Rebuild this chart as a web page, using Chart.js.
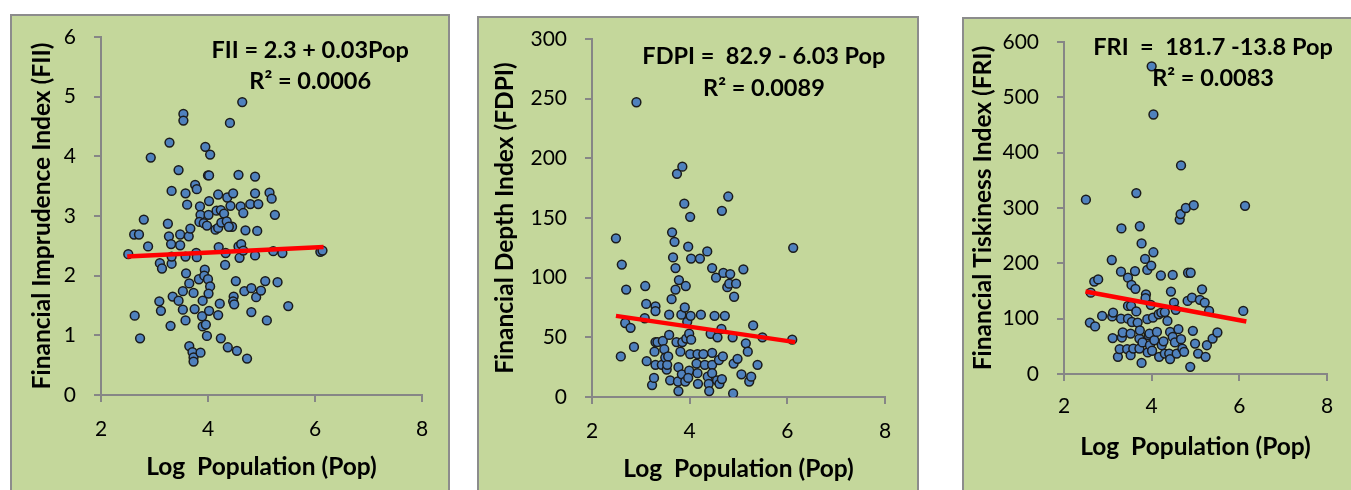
<!DOCTYPE html>
<html>
<head>
<meta charset="utf-8">
<script src="https://cdn.jsdelivr.net/npm/chart.js@4"></script>
<style>
  body { margin: 0; background: #fff; width: 1351px; height: 490px; overflow: hidden; position: relative; }
  .panel { position: absolute; box-sizing: border-box; border: 2px solid #8c8c8c; background: #C4D79B; }
  .panel canvas { display: block; }
</style>
</head>
<body>
<div class="panel" style="left:10px;top:14px;width:440px;height:490px"><canvas id="c1" width="436" height="474"></canvas></div>
<div class="panel" style="left:477px;top:16px;width:442px;height:490px"><canvas id="c2" width="438" height="472"></canvas></div>
<div class="panel" style="left:962px;top:17px;width:400px;height:490px"><canvas id="c3" width="387" height="471"></canvas></div>
<script>
// log population (x) and index values (y)
const fiiPop = [2.51,2.62,2.71,2.63,2.73,2.80,2.88,2.93,3.09,3.12,3.10,3.14,3.25,3.27,3.28,3.30,3.32,3.31,3.32,3.32,3.34,3.45,3.48,3.48,3.45,3.53,3.53,3.54,3.54,3.58,3.61,3.59,3.58,3.58,3.64,3.67,3.65,3.65,3.71,3.73,3.73,3.73,3.75,3.76,3.79,3.78,3.79,3.83,3.85,3.86,3.84,3.86,3.90,3.89,3.90,3.92,3.94,3.93,3.96,3.95,3.98,3.98,4.00,4.01,4.00,4.02,4.04,4.02,4.04,4.01,4.02,4.14,4.19,4.16,4.19,4.20,4.19,4.22,4.24,4.24,4.25,4.30,4.32,4.33,4.36,4.35,4.37,4.41,4.42,4.45,4.39,4.47,4.48,4.47,4.49,4.52,4.54,4.57,4.57,4.59,4.61,4.64,4.66,4.62,4.66,4.68,4.70,4.73,4.79,4.81,4.81,4.88,4.88,4.88,4.92,4.90,4.94,4.99,5.07,5.10,5.15,5.19,5.22,5.25,5.30,5.39,5.50,6.10,6.14];
const fiiValues = [2.36,2.69,2.69,1.33,0.95,2.94,2.49,3.98,1.57,1.41,2.21,2.12,2.87,2.66,4.23,1.16,3.42,2.53,2.20,2.32,1.65,3.77,2.69,2.51,1.58,1.43,1.74,4.71,4.60,3.38,3.19,2.04,1.25,2.32,2.66,2.79,1.87,0.82,0.72,0.63,0.56,1.71,1.44,3.52,3.45,2.38,2.31,1.94,3.16,3.02,2.90,0.71,1.58,1.32,1.15,2.88,2.10,2.00,1.18,4.16,2.84,0.99,3.68,3.02,1.94,3.68,4.03,3.25,1.82,1.70,1.41,2.77,3.36,3.09,2.80,2.48,1.34,1.53,0.95,3.10,2.89,3.04,2.18,2.38,3.31,2.91,0.80,4.56,3.17,2.82,2.82,3.38,1.65,1.57,1.52,1.91,0.74,3.69,2.49,2.30,3.16,4.91,3.05,2.53,2.42,1.74,2.76,0.61,3.20,1.39,1.79,3.66,3.38,2.34,2.75,1.64,3.20,1.75,1.91,1.25,3.39,3.29,2.41,3.02,1.89,2.38,1.49,2.40,2.42];

const fdpiPop = [2.49,2.61,2.59,2.70,2.68,2.79,2.86,2.91,3.09,3.11,3.08,3.12,3.23,3.27,3.30,3.30,3.28,3.30,3.34,3.30,3.43,3.45,3.48,3.50,3.53,3.54,3.56,3.58,3.58,3.60,3.63,3.64,3.66,3.69,3.71,3.71,3.74,3.78,3.73,3.77,3.77,3.76,3.81,3.85,3.83,3.85,3.84,3.89,3.92,3.90,3.91,3.93,3.95,3.97,3.99,4.01,4.02,4.03,4.03,4.01,3.99,3.97,4.14,4.16,4.16,4.17,4.21,4.23,4.28,4.31,4.36,4.37,4.39,4.40,4.46,4.43,4.46,4.46,4.46,4.51,4.54,4.57,4.56,4.60,4.61,4.66,4.66,4.68,4.65,4.69,4.72,4.79,4.83,4.77,4.81,4.91,4.95,4.88,4.89,4.90,4.98,5.06,5.10,5.15,5.19,5.22,5.26,5.30,5.39,5.49,6.10,6.12];
const fdpiValues = [133,111,34,90,62,58,42,247,93,78,66,30,10,16,76,72,38,46,46,27,27,47,40,33,23,27,34,52,69,14,82,138,117,130,108,90,187,98,46,25,5,13,38,193,69,46,19,162,93,75,13,49,63,126,53,151,68,48,116,36,22,16,28,36,20,11,116,69,36,27,122,17,11,5,108,53,37,27,20,68,100,50,14,31,11,156,15,34,57,104,68,168,103,92,95,84,95,50,3,28,32,19,107,45,38,13,17,60,27,50,48,125];

const friPop = [2.50,2.59,2.61,2.71,2.69,2.78,2.87,3.09,3.10,3.12,3.11,3.23,3.27,3.30,3.31,3.30,3.32,3.34,3.44,3.46,3.46,3.46,3.52,3.52,3.53,3.54,3.55,3.58,3.62,3.63,3.65,3.65,3.68,3.72,3.72,3.73,3.73,3.77,3.77,3.79,3.85,3.87,3.86,3.90,3.90,3.91,3.93,3.95,3.96,3.99,3.98,4.01,4.00,4.04,4.04,4.03,4.06,4.12,4.17,4.16,4.21,4.22,4.23,4.27,4.30,4.30,4.36,4.40,4.42,4.42,4.44,4.48,4.48,4.51,4.53,4.55,4.57,4.61,4.64,4.67,4.66,4.67,4.70,4.74,4.78,4.82,4.83,4.89,4.88,4.92,4.94,4.96,4.99,5.06,5.10,5.15,5.21,5.23,5.26,5.31,5.39,5.50,6.09,6.13];
const friValues = [315,93,147,86,167,171,105,206,104,111,65,31,45,100,263,185,66,75,45,174,100,123,34,73,123,161,94,46,186,154,113,327,93,64,46,267,79,236,20,57,208,144,137,188,99,39,70,73,52,196,125,42,556,469,220,102,61,76,31,108,178,111,52,59,37,112,96,37,27,76,149,179,67,129,57,116,37,81,279,63,289,377,46,40,300,132,183,183,13,138,78,305,55,37,134,153,129,31,52,114,64,75,114,304];

// red fitted lines, ends
const trendPop = [2.49, 6.16];
const fiiTrend = [2.32, 2.48];
const fdpiTrend = [68, 46];
const friTrend = [149, 95];

const yTitles = ['Financial Imprudence Index (FII)', 'Financial Depth Index (FDPI)', 'Financial Tiskiness Index (FRI)'];
const xTitle = 'Log  Population (Pop)';
const equations = [
  ['FII = 2.3 + 0.03Pop', 'R\u00b2 = 0.0006'],
  ['FDPI =  82.9 - 6.03 Pop', 'R\u00b2 = 0.0089'],
  ['FRI  =  181.7 -13.8 Pop', 'R\u00b2 = 0.0083']
];
// where each equation block is centred, in data units (x, line1 y, line2 y)
const eqAnchor = [[5.91, 5.78, 5.26], [5.52, 285, 259], [5.40, 591, 535]];
const yMax = [6, 300, 600];
const yStep = [1, 50, 100];

const FONT = 'Lato, Carlito, Calibri, sans-serif';
const grey = '#868686';

const eqPlugin = {
  id: 'eq',
  afterDatasetsDraw(chart, args, opts) {
    const {ctx, scales} = chart;
    const a = opts.anchor;
    ctx.save();
    ctx.font = 'bold 23.5px ' + FONT;
    ctx.fillStyle = '#000';
    ctx.textAlign = 'center';
    ctx.textBaseline = 'middle';
    const x = scales.x.getPixelForValue(a[0]);
    ctx.fillText(opts.lines[0], x, scales.y.getPixelForValue(a[1]));
    ctx.fillText(opts.lines[1], x, scales.y.getPixelForValue(a[2]));
    ctx.restore();
  }
};

function makePanel(id, i, xs, ys, trend, lay) {
  const pts = xs.map((x, k) => ({x: x, y: ys[k]}));
  const line = trendPop.map((x, k) => ({x: x, y: trend[k]}));
  new Chart(document.getElementById(id), {
    type: 'scatter',
    data: {
      datasets: [
        {type: 'line', data: line, borderColor: '#ff0000', borderWidth: 4.5, pointRadius: 0, fill: false, order: 0},
        {data: pts, backgroundColor: '#4F81BD', borderColor: '#1b1b1b', borderWidth: 1.5, pointRadius: 4.4, order: 1}
      ]
    },
    options: {
      responsive: false,
      devicePixelRatio: 1,
      animation: false,
      events: [],
      layout: {padding: {left: 0, top: lay.top, right: lay.right, bottom: 0}},
      plugins: {
        legend: {display: false},
        tooltip: {enabled: false},
        eq: {lines: equations[i], anchor: eqAnchor[i]}
      },
      scales: {
        x: {
          type: 'linear', min: 2, max: 8,
          afterFit: s => { s.height = lay.xh; s.paddingLeft = 0; s.paddingRight = 0; },
          border: {color: grey, width: 2},
          grid: {drawOnChartArea: false, drawTicks: true, tickLength: 7, color: grey, lineWidth: 2},
          ticks: {stepSize: 2, color: '#000', padding: lay.xpad, font: {family: FONT, size: 21}},
          title: {display: true, text: xTitle, color: '#000', font: {family: FONT, size: 24.5, weight: 'bold'}, padding: {top: 0, bottom: lay.xtb}}
        },
        y: {
          min: 0, max: yMax[i],
          afterFit: s => { s.width = lay.yw; s.paddingTop = 0; s.paddingBottom = 0; },
          border: {color: grey, width: 2},
          grid: {drawOnChartArea: false, drawTicks: true, tickLength: 7, color: grey, lineWidth: 2},
          ticks: {stepSize: yStep[i], color: '#000', padding: 18, font: {family: FONT, size: 21}},
          title: {display: true, text: yTitles[i], color: '#000', font: {family: FONT, size: 24.5, weight: 'bold'}, padding: {top: lay.ytt, bottom: 0}}
        }
      }
    },
    plugins: [eqPlugin]
  });
}

makePanel('c1', 0, fiiPop, fiiValues, fiiTrend, {top: 21, right: 26, xh: 95, yw: 89, xpad: 15, xtb: 8, ytt: 15});
makePanel('c2', 1, fdpiPop, fdpiValues, fdpiTrend, {top: 21, right: 32, xh: 93, yw: 113, xpad: 15, xtb: 6, ytt: 11});
makePanel('c3', 2, friPop, friValues, friTrend, {top: 23, right: 24, xh: 116, yw: 100, xpad: 13, xtb: 28, ytt: 4});
</script>
</body>
</html>
